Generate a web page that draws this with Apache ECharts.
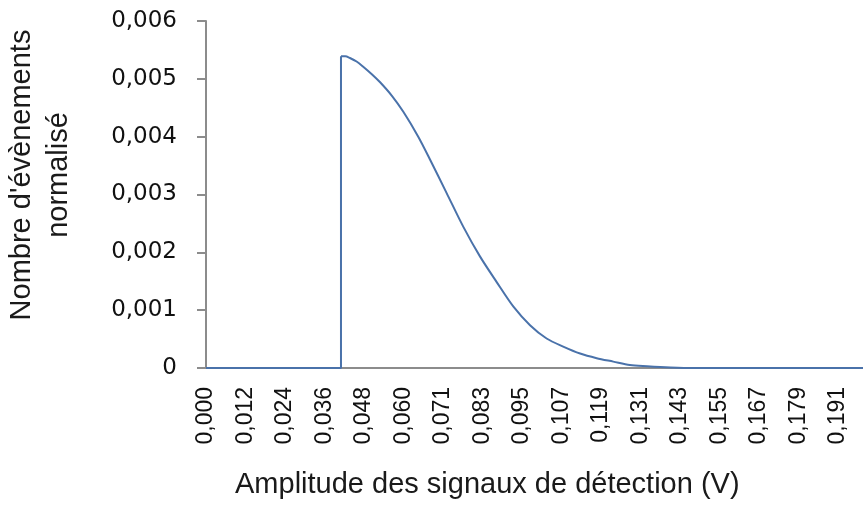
<!DOCTYPE html>
<html>
<head>
<meta charset="utf-8">
<script src="https://cdn.jsdelivr.net/npm/echarts@6/dist/echarts.min.js"></script>
<style>
  html, body { margin: 0; padding: 0; background: #fff; }
  #chart { width: 863px; height: 509px; }
</style>
</head>
<body>
<div id="chart"></div>
<script>
// amplitude (V) and normalised event count
const amplitude = [0, 0.0407, 0.0407, 0.0420, 0.0434, 0.0454, 0.0474, 0.0500, 0.0525, 0.0560,
  0.0595, 0.0640, 0.0675, 0.0726, 0.0776, 0.0826, 0.0876, 0.0927, 0.0977, 0.1027,
  0.1077, 0.1128, 0.1178, 0.1228, 0.1278, 0.1330, 0.1400, 0.1470, 0.1981];
const events = [0, 0, 0.00539, 0.00539, 0.00536, 0.00530, 0.00521, 0.00508, 0.00494, 0.00471,
  0.00443, 0.00400, 0.00361, 0.00302, 0.00244, 0.00193, 0.00149, 0.00106, 0.00074, 0.00051,
  0.00037, 0.00025, 0.00017, 0.00011, 0.00005, 0.00003, 0.00001, 0, 0];
// index where the threshold step ends and the smooth decay starts
const stepEnd = 2;

// tick step of the amplitude axis (labels 0,000 0,012 ... 0,191)
const xStep = 0.011912;
const xMax = 0.1981;
const yMax = 0.006;
const yStep = 0.001;

const xTitle = 'Amplitude des signaux de détection (V)';
const yTitle = 'Nombre d\'évènements\nnormalisé';

const chart = echarts.init(document.getElementById('chart'));

const comma = (v, d) => v.toFixed(d).replace('.', ',');
const points = amplitude.map((a, i) => [a, events[i]]);
const lineStyle = { color: '#4a72aa', width: 2 };

chart.setOption({
  animation: false,
  grid: {
    left: 206,
    top: 21,
    right: 0,
    bottom: 141,
  },
  xAxis: {
    type: 'value',
    min: 0,
    max: xMax,
    interval: xStep,
    axisLine: { lineStyle: { color: '#8c8c8c', width: 2 } },
    axisTick: { show: false },
    splitLine: { show: false },
    axisLabel: {
      rotate: 90,
      margin: 19,
      showMaxLabel: false,
      color: '#111',
      fontFamily: 'Liberation Sans',
      fontSize: 23,
      formatter: (v) => comma(v, 3),
    },
  },
  yAxis: {
    type: 'value',
    min: 0,
    max: yMax,
    interval: yStep,
    axisLine: { show: true, lineStyle: { color: '#8c8c8c', width: 2 } },
    axisTick: { show: true, length: 9, lineStyle: { color: '#8c8c8c', width: 2 } },
    splitLine: { show: false },
    axisLabel: {
      margin: 29,
      color: '#111',
      fontFamily: 'DejaVu Sans',
      fontSize: 23,
      formatter: (v) => (v === 0 ? '0' : comma(v, 3)),
    },
  },
  graphic: [
    {
      type: 'text',
      left: 235,
      top: 470,
      style: {
        text: xTitle,
        fill: '#1a1a1a',
        font: '29px "Liberation Sans"',
      },
    },
    {
      type: 'text',
      x: 40,
      y: 175,
      rotation: Math.PI / 2,
      style: {
        text: yTitle,
        fill: '#1a1a1a',
        font: '29px "Liberation Sans"',
        align: 'center',
        verticalAlign: 'middle',
        lineHeight: 37,
      },
    },
  ],
  series: [
    {
      type: 'line',
      data: points.slice(0, stepEnd + 1),
      symbol: 'none',
      lineStyle,
    },
    {
      type: 'line',
      data: points.slice(stepEnd),
      symbol: 'none',
      smooth: 0.3,
      lineStyle,
    },
  ],
});
</script>
</body>
</html>
